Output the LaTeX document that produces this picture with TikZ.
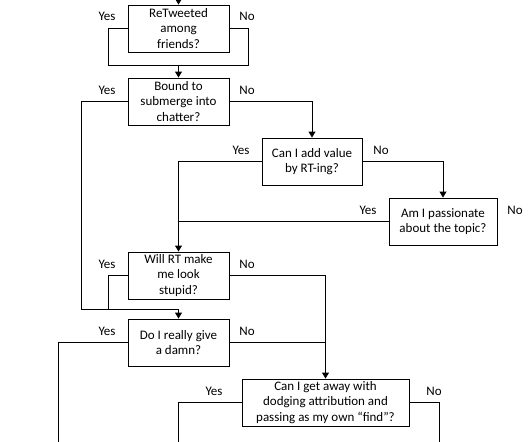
\documentclass[tikz,border=0pt]{standalone}
\usepackage{fontspec}
\setmainfont{Carlito}
\usetikzlibrary{arrows.meta,positioning,calc}
\tikzset{
  qbox/.style={draw, line width=0.9pt, minimum width=101pt, minimum height=47pt,
    inner sep=1pt, align=center, font=\fontsize{13}{15.5}\selectfont},
  lbl/.style={font=\fontsize{13}{15}\selectfont, inner sep=0pt},
  arr/.style={-{Triangle[width=7pt,length=6pt]}},
}
\begin{document}
\begin{tikzpicture}[x=1pt, y=-1pt, line width=0.9pt]
      \useasboundingbox (0,0) rectangle (531,442);

      % questions
      \node[qbox] (q1) at (178.5, 28.5) {ReTweeted\\among\\friends?};
      \node[qbox] (q2) at (178.5, 101.5) {Bound to\\submerge into\\chatter?};
      \node[qbox, minimum width=100pt] (q3) at (312, 161.5) {Can I add value\\by RT-ing?};
      \node[qbox, minimum width=108pt] (q4) at (443, 221.5) {Am I passionate\\about the topic?};
      \node[qbox] (q5) at (178.5, 275.5) {Will RT make\\me look\\stupid?};
      \node[qbox] (q6) at (178.5, 342.5) {Do I really give\\a damn?};
      \node[qbox, minimum width=167pt] (q7) at (325.5, 402.5) {Can I get away with\\dodging attribution and\\passing as my own “find”?};

      % yes / no labels
      \node[lbl] (y1) at (107, 16) {Yes};
      \node[lbl] (n1) at (247, 16) {No};
      \node[lbl] (y2) at (107, 90) {Yes};
      \node[lbl] (n2) at (247, 90) {No};
      \node[lbl] (y3) at (241, 150) {Yes};
      \node[lbl] (n3) at (381, 150) {No};
      \node[lbl] (y4) at (368, 210) {Yes};
      \node[lbl] (n4) at (515, 210) {No};
      \node[lbl] (y5) at (107, 264) {Yes};
      \node[lbl] (n5) at (247, 264) {No};
      \node[lbl] (y6) at (107, 331) {Yes};
      \node[lbl] (n6) at (247, 331) {No};
      \node[lbl] (y7) at (214, 391) {Yes};
      \node[lbl] (n7) at (434, 391) {No};

      % helper points
      \coordinate (top) at (178.5, 0);
      \coordinate (loopL) at (108, 65);
      \coordinate (loopR) at (248, 65);
      \coordinate (loopC) at (178.5, 65);
      \coordinate (j1) at (81, 309);
      \coordinate (j2) at (178.5, 309);
      \coordinate (j3) at (108, 309);
      \coordinate (e1) at (58, 442);
      \coordinate (e2) at (178.5, 442);
      \coordinate (e3) at (439, 442);

      % connectors
      \draw[arr] (top) -- (q1.north);
      \draw (q1.west) -| (loopL) -- (loopR) |- (q1.east);
      \draw[arr] (loopC) -- (q2.north);
      \draw (q2.west) -| (j1) -- (j2);
      \draw[arr] (q2.east) -| (q3.north);
      \draw[arr] (q3.west) -| (q5.north);
      \draw[arr] (q3.east) -| (q4.north);
      \draw (q4.west) -- (q4.west -| q5.north);
      \draw (q5.west) -| (j3);
      \draw[arr] (q5.east) -| (q7.north);
      \draw[arr] (j2) -- (q6.north);
      \draw (q6.west) -| (e1);
      \draw (q6.east) -- (q6.east -| q7.north);
      \draw (q7.west) -| (e2);
      \draw (q7.east) -| (e3);
\end{tikzpicture}
\end{document}
